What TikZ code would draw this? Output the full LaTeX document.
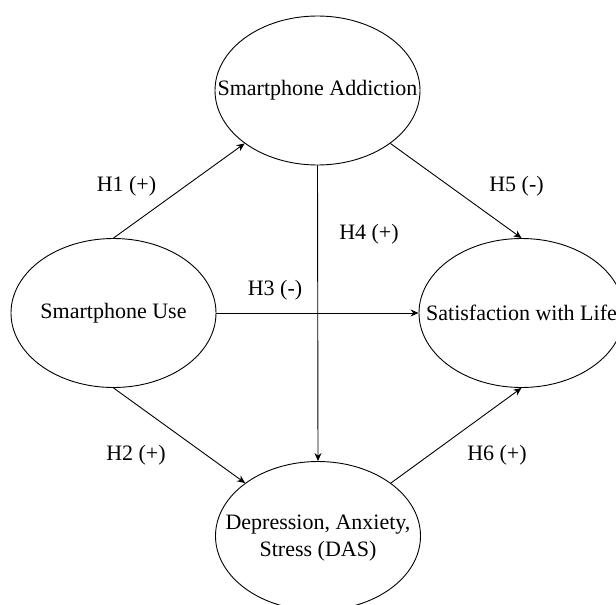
\documentclass[tikz,border=0pt]{standalone}
\usepackage{fontspec}
\setmainfont{Liberation Serif}
\usetikzlibrary{arrows.meta,shapes.geometric}
\begin{document}
\begin{tikzpicture}[x=1pt,y=-1pt,
  construct/.style={draw=black,line width=0.9pt,ellipse,minimum width=205pt,minimum height=149pt,inner sep=0pt},
  ctext/.style={inner sep=0pt,font=\fontsize{22}{27}\selectfont,align=center},
  hlabel/.style={inner sep=0pt,font=\fontsize{22}{27}\selectfont},
  conn/.style={line width=0.9pt,-{Stealth[length=8pt,width=7pt]}},
  plain/.style={line width=0.9pt}]
\useasboundingbox (0,0) rectangle (616,605);
\clip (0,0) rectangle (616,605);
\fill[white] (0,0) rectangle (616,605);
\node[construct] (add) at (317.5,90.5) {};
\node[construct] (use) at (113.5,313) {};
\node[construct] (sat) at (521.5,313) {};
\node[construct] (das) at (318,536) {};
\node[ctext] (addt) at (add.center) {Smartphone Addiction};
\node[ctext] (uset) at (use.center) {Smartphone Use};
\node[ctext] (satt) at (sat.center) {Satisfaction with Life};
\node[ctext] (dast) at (318,538) {Depression, Anxiety,\\Stress (DAS)};
\draw[conn] (use.north) -- (add.216);
\draw[conn] (use.south) -- (das.144);
\draw[conn] (use.east) -- (sat.west);
\draw[conn] (add.south) -- (das.north);
\draw[conn] (add.324) -- (sat.north);
\draw[conn] (das.36) -- (sat.south);
\node[hlabel] (h1) at (126.5,186) {H1 (+)};
\node[hlabel] (h5) at (516.5,186) {H5 (-)};
\node[hlabel] (h4) at (369,234) {H4 (+)};
\node[hlabel] (h3) at (275,290) {H3 (-)};
\node[hlabel] (h2) at (136,455) {H2 (+)};
\node[hlabel] (h6) at (497,455) {H6 (+)};
\end{tikzpicture}
\end{document}
